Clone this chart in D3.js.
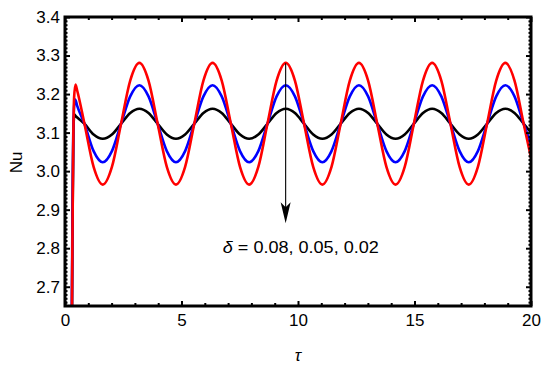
<!DOCTYPE html>
<html>
<head>
<meta charset="utf-8">
<script src="https://cdn.jsdelivr.net/npm/d3@7"></script>
<style>
  html, body { margin: 0; padding: 0; background: #fff; }
  svg { display: block; font-family: "Liberation Sans", Arial, sans-serif; }
</style>
</head>
<body>
<svg id="chart" width="550" height="369"></svg>
<script>
// ---------- data ----------
const xTicks = [0, 5, 10, 15, 20];
const yTicks = [2.7, 2.8, 2.9, 3.0, 3.1, 3.2, 3.3, 3.4];
const deltas = ["0.08", "0.05", "0.02"];

// common time samples (periodic regime)
const tauCommon = [0.835, 1.228, 1.621, 2.014, 2.406, 2.799, 3.192, 3.584, 3.977, 4.370,
  4.762, 5.155, 5.548, 5.941, 6.333, 6.726, 7.119, 7.511, 7.904, 8.297,
  8.689, 9.082, 9.475, 9.868, 10.260, 10.653, 11.046, 11.438, 11.831, 12.224,
  12.616, 13.009, 13.402, 13.795, 14.187, 14.580, 14.973, 15.365, 15.758, 16.151,
  16.543, 16.936, 17.329, 17.721, 18.114, 18.507, 18.900, 19.292, 19.685, 20.0];

// start-up transient
const tauStartRed = [0.27, 0.31, 0.35, 0.39, 0.45, 0.52];
const nuStartRed = [2.40, 2.75, 3.05, 3.19, 3.225, 3.21];
const tauStartBlue = [0.27, 0.31, 0.35, 0.40, 0.44, 0.52];
const nuStartBlue = [2.40, 2.80, 3.08, 3.175, 3.186, 3.17];
const tauStartBlack = [0.28, 0.32, 0.36, 0.40, 0.46, 0.55];
const nuStartBlack = [2.40, 2.85, 3.10, 3.147, 3.143, 3.138];

// delta = 0.08 (red)
const nuRed = [3.123, 3.011, 2.965, 3.011, 3.123, 3.235, 3.281, 3.235,
  3.123, 3.011, 2.965, 3.011, 3.123, 3.235, 3.281, 3.235,
  3.123, 3.011, 2.965, 3.011, 3.123, 3.235, 3.281, 3.235,
  3.123, 3.011, 2.965, 3.011, 3.123, 3.235, 3.281, 3.235,
  3.123, 3.011, 2.965, 3.011, 3.123, 3.235, 3.281, 3.235,
  3.123, 3.011, 2.965, 3.011, 3.123, 3.235, 3.281, 3.235,
  3.123, 3.035];
// delta = 0.05 (blue)
const nuBlue = [3.123, 3.052, 3.023, 3.052, 3.123, 3.194, 3.223, 3.194,
  3.123, 3.052, 3.023, 3.052, 3.123, 3.194, 3.223, 3.194,
  3.123, 3.052, 3.023, 3.052, 3.123, 3.194, 3.223, 3.194,
  3.123, 3.052, 3.023, 3.052, 3.123, 3.194, 3.223, 3.194,
  3.123, 3.052, 3.023, 3.052, 3.123, 3.194, 3.223, 3.194,
  3.123, 3.052, 3.023, 3.052, 3.123, 3.194, 3.223, 3.194,
  3.123, 3.070];
// delta = 0.02 (black)
const nuBlack = [3.123, 3.095, 3.084, 3.095, 3.123, 3.151, 3.162, 3.151,
  3.123, 3.095, 3.084, 3.095, 3.123, 3.151, 3.162, 3.151,
  3.123, 3.095, 3.084, 3.095, 3.123, 3.151, 3.162, 3.151,
  3.123, 3.095, 3.084, 3.095, 3.123, 3.151, 3.162, 3.151,
  3.123, 3.095, 3.084, 3.095, 3.123, 3.151, 3.162, 3.151,
  3.123, 3.095, 3.084, 3.095, 3.123, 3.151, 3.162, 3.151,
  3.123, 3.100];

// annotation arrow (data coords)
const arrowTau = 9.47;
const arrowNu = [3.28, 2.865];

// ---------- drawing ----------
const svg = d3.select("#chart");
const mL = 65, mR = 531, mT = 17, mB = 306;
const FS = 17;
const x = d3.scaleLinear().domain([0, 20]).range([mL, mR]);
const y = d3.scaleLinear().domain([2.65, 3.4]).range([mB, mT]);

const defs = svg.append("defs");
defs.append("clipPath").attr("id", "clip")
  .append("rect").attr("x", mL).attr("y", mT)
  .attr("width", mR - mL).attr("height", mB - mT);

function pts(t0, v0, t1, v1) {
  return t0.map((t, i) => [t, v0[i]]).concat(t1.map((t, i) => [t, v1[i]]));
}
const series = [
  { color: "#000000", data: pts(tauStartBlack, nuStartBlack, tauCommon, nuBlack) },
  { color: "#0000ff", data: pts(tauStartBlue, nuStartBlue, tauCommon, nuBlue) },
  { color: "#ff0000", data: pts(tauStartRed, nuStartRed, tauCommon, nuRed) }
];
const line = d3.line().x(d => x(d[0])).y(d => y(d[1])).curve(d3.curveMonotoneX);

const g = svg.append("g").attr("clip-path", "url(#clip)");
g.selectAll("path.series").data(series).join("path")
  .attr("class", "series")
  .attr("fill", "none")
  .attr("stroke", d => d.color)
  .attr("stroke-width", 2.6)
  .attr("stroke-linejoin", "round")
  .attr("d", d => line(d.data));

// arrow
const ax = x(arrowTau), ay1 = y(arrowNu[0]), ay2 = y(arrowNu[1]);
svg.append("line").attr("x1", ax).attr("x2", ax).attr("y1", ay1).attr("y2", ay2 - 14)
  .attr("stroke", "#000").attr("stroke-width", 1.1);
svg.append("path")
  .attr("d", `M${ax},${ay2} L${ax - 5},${ay2 - 21} L${ax},${ay2 - 16} L${ax + 5},${ay2 - 21} Z`)
  .attr("fill", "#000");

// label
const lab = svg.append("text")
  .attr("x", x(10.12)).attr("y", y(2.787))
  .attr("text-anchor", "middle")
  .attr("font-size", FS).attr("fill", "#000")
  .attr("textLength", 156).attr("lengthAdjust", "spacingAndGlyphs");
lab.append("tspan").attr("font-style", "italic").text("δ");
lab.append("tspan").text(" = " + deltas.join(", "));

// axes with inward ticks
const minorX = d3.range(0, 21, 1).filter(v => v % 5 !== 0);
const minorY = d3.range(266, 340, 1).map(v => v / 100).filter(v => Math.round(v * 100) % 10 !== 0);
const fmtY = d3.format(".1f");

function addAxis(axisFn, scale, transform, vals, size, fmt, pad) {
  const a = axisFn(scale).tickValues(vals).tickSizeInner(-size).tickSizeOuter(0).tickPadding(pad || 6);
  if (fmt) a.tickFormat(fmt); else a.tickFormat("");
  const gg = svg.append("g").attr("transform", transform).call(a);
  gg.select(".domain").remove();
  gg.selectAll(".tick line").attr("stroke", "#000").attr("stroke-width", 2);
  gg.selectAll(".tick text").attr("font-size", FS).attr("fill", "#000")
    .attr("font-family", "Liberation Sans, Arial, sans-serif");
  return gg;
}
addAxis(d3.axisBottom, x, `translate(0,${mB})`, xTicks, 5, d3.format("d"), 8);
addAxis(d3.axisBottom, x, `translate(0,${mB})`, minorX, 3, null);
addAxis(d3.axisTop, x, `translate(0,${mT})`, xTicks, 5, null);
addAxis(d3.axisTop, x, `translate(0,${mT})`, minorX, 3, null);
addAxis(d3.axisLeft, y, `translate(${mL},0)`, yTicks, 5, fmtY, 5);
addAxis(d3.axisLeft, y, `translate(${mL},0)`, minorY, 2.5, null);
addAxis(d3.axisRight, y, `translate(${mR},0)`, yTicks, 5, null);
addAxis(d3.axisRight, y, `translate(${mR},0)`, minorY, 2.5, null);

// frame
svg.append("rect").attr("x", mL).attr("y", mT)
  .attr("width", mR - mL).attr("height", mB - mT)
  .attr("fill", "none").attr("stroke", "#000").attr("stroke-width", 3);

// axis titles
svg.append("text").attr("transform", `translate(22,${(mT + mB) / 2 + 1}) rotate(-90)`)
  .attr("text-anchor", "middle").attr("font-size", FS).text("Nu");
svg.append("text").attr("x", x(10)).attr("y", 361)
  .attr("text-anchor", "middle").attr("font-size", FS).attr("font-style", "italic").text("τ");
</script>
</body>
</html>
